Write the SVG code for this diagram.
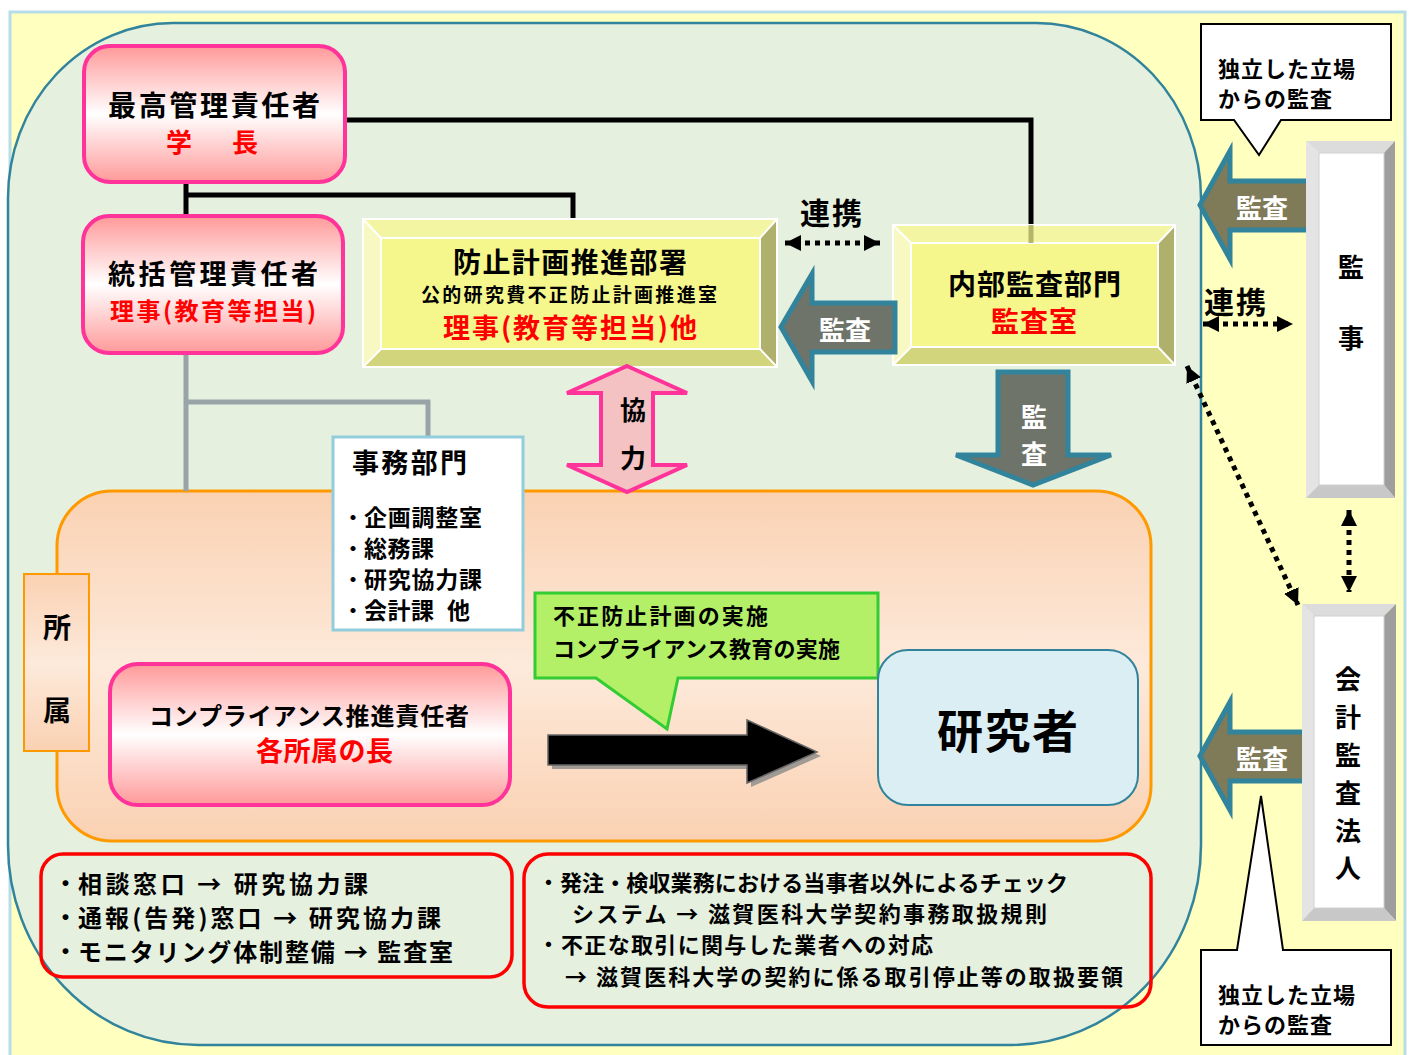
<svg xmlns="http://www.w3.org/2000/svg" width="1416" height="1055" viewBox="0 0 1416 1055">
<style>
.t{font-family:"Noto Sans CJK JP","Noto Sans CJK SC",sans-serif;font-weight:bold;dominant-baseline:central;fill:#000}
.r{fill:#FF0000}
.w{fill:#FFFFFF}
.m{text-anchor:middle}
.pink{stroke:#FF3399;stroke-width:4;fill:url(#pg)}
.dot{stroke:#000;stroke-width:5;stroke-dasharray:5 5;fill:none}
.blk{stroke:#000;stroke-width:5;fill:none}
.gry{stroke:#98A4A7;stroke-width:5;fill:none}
.audit{stroke:#31849B;stroke-width:5;stroke-linejoin:miter}
.wl{stroke:#FFFFFF;stroke-width:2;fill:none}
.call{fill:#FFFFFF;stroke:#000;stroke-width:2}
.redbox{fill:none;stroke:#FF0000;stroke-width:3.5}
</style>
<defs>
<linearGradient id="pg" x1="0" y1="0" x2="0" y2="1">
<stop offset="0" stop-color="#FF9999"/><stop offset="0.5" stop-color="#FFFFFF"/><stop offset="1" stop-color="#FF9999"/>
</linearGradient>
<linearGradient id="og" x1="0" y1="0" x2="0" y2="1">
<stop offset="0" stop-color="#FAD1B2"/><stop offset="0.5" stop-color="#FDEADB"/><stop offset="1" stop-color="#FAD1B2"/>
</linearGradient>
<marker id="ah" viewBox="0 0 10 10" refX="10" refY="5" markerWidth="16" markerHeight="16" markerUnits="userSpaceOnUse" orient="auto-start-reverse">
<path d="M0,0 L10,5 L0,10 z" fill="#000"/>
</marker>
</defs>

<!-- background -->
<rect x="10" y="12" width="1395" height="1050" fill="#FFFFBF" stroke="#B7DDE8" stroke-width="3"/>
<path d="M173,23 L1036,23 A165,175 0 0 1 1201,198 L1201,845 A190,200 0 0 1 1011,1045 L198,1045 A190,200 0 0 1 8,845 L8,198 A165,175 0 0 1 173,23 Z" fill="#E5F0DF" stroke="#31849B" stroke-width="2.5"/>

<!-- region: 所属 -->
<g id="region-shozoku">
<rect x="57" y="491" width="1094" height="350" rx="55" fill="url(#og)" stroke="#FF9900" stroke-width="3"/>
</g>

<!-- connectors -->
<g id="connectors">
<polyline class="blk" points="345,120 1031,120 1031,243"/>
<polyline class="blk" points="186,182 186,215"/>
<polyline class="blk" points="186,195 573,195 573,219"/>
<polyline class="gry" points="186,353 186,491"/>
<polyline class="gry" points="186,402 428,402 428,437"/>
<line class="dot" x1="785" y1="243" x2="880" y2="243" marker-start="url(#ah)" marker-end="url(#ah)"/>
<line class="dot" x1="1203" y1="324" x2="1293" y2="324" marker-start="url(#ah)" marker-end="url(#ah)"/>
<line class="dot" x1="1349" y1="510" x2="1349" y2="592" marker-start="url(#ah)" marker-end="url(#ah)"/>
<line class="dot" x1="1187" y1="366" x2="1298" y2="605" marker-start="url(#ah)" marker-end="url(#ah)"/>
</g>

<!-- 最高管理責任者 -->
<g id="node-saikou">
<rect class="pink" x="84" y="46" width="261" height="136" rx="26"/>
<text class="t" x="108" y="104" font-size="28" textLength="212" lengthAdjust="spacing">最高管理責任者</text>
<text class="t r" x="166" y="140" font-size="26">学</text>
<text class="t r" x="232" y="140" font-size="26">長</text>
</g>

<!-- 統括管理責任者 -->
<g id="node-toukatsu">
<rect class="pink" x="83" y="216" width="260" height="137" rx="26"/>
<text class="t" x="108" y="272" font-size="27" textLength="210" lengthAdjust="spacing">統括管理責任者</text>
<text class="t r" x="110" y="309" font-size="24" textLength="206" lengthAdjust="spacing">理事(教育等担当)</text>
</g>

<!-- 防止計画推進部署 -->
<g id="node-boushi">
<polygon points="363,219 777,219 760,238 381,238" fill="#F3F5A2"/>
<polygon points="363,219 381,238 381,349 363,367" fill="#F8F9C2"/>
<polygon points="777,219 777,367 760,349 760,238" fill="#AEB06B"/>
<polygon points="363,367 777,367 760,349 381,349" fill="#D2D57B"/>
<rect x="381" y="238" width="379" height="111" fill="#F5F78D"/>
<rect class="wl" x="363" y="219" width="414" height="148"/>
<rect class="wl" x="381" y="238" width="379" height="111"/>
<path class="wl" d="M363,219 L381,238 M777,219 L760,238 M363,367 L381,349 M777,367 L760,349"/>
<text class="t" x="453" y="261" font-size="28" textLength="234" lengthAdjust="spacing">防止計画推進部署</text>
<text class="t" x="421" y="293" font-size="19" textLength="296" lengthAdjust="spacing">公的研究費不正防止計画推進室</text>
<text class="t r" x="443" y="326" font-size="27" textLength="254" lengthAdjust="spacing">理事(教育等担当)他</text>
</g>

<!-- 内部監査部門 -->
<g id="node-naibu">
<polygon points="893,225 1175,225 1158,243 911,243" fill="#F3F5A2"/>
<polygon points="893,225 911,243 911,347 893,365" fill="#F8F9C2"/>
<polygon points="1175,225 1175,365 1158,347 1158,243" fill="#AEB06B"/>
<polygon points="893,365 1175,365 1158,347 911,347" fill="#D2D57B"/>
<rect x="911" y="243" width="247" height="104" fill="#F5F78D"/>
<rect class="wl" x="893" y="225" width="282" height="140"/>
<rect class="wl" x="911" y="243" width="247" height="104"/>
<path class="wl" d="M893,225 L911,243 M1175,225 L1158,243 M893,365 L911,347 M1175,365 L1158,347"/>
<line x1="1031" y1="225" x2="1031" y2="243" stroke="#B5B56A" stroke-width="5"/>
<text class="t" x="948" y="283" font-size="28" textLength="173" lengthAdjust="spacing">内部監査部門</text>
<text class="t r" x="991" y="320" font-size="28" textLength="86" lengthAdjust="spacing">監査室</text>
</g>

<!-- labels 連携 -->
<g id="label-renkei-1"><text class="t" x="800" y="211" font-size="30" textLength="62" lengthAdjust="spacing">連携</text></g>
<g id="label-renkei-2"><text class="t" x="1204" y="300" font-size="30" textLength="62" lengthAdjust="spacing">連携</text></g>

<!-- audit arrows -->
<g id="arrow-audit-mid">
<path class="audit" d="M781,327 L812,274 L812,303 L895,303 L895,352 L812,352 L812,381 Z" fill="#6E7469"/>
<text class="t w" x="819" y="328" font-size="26">監査</text>
</g>
<g id="arrow-audit-down">
<path class="audit" d="M998,372 L1068,372 L1068,455 L1111,455 L1033,485 L956,455 L998,455 Z" fill="#6E7469"/>
<text class="t w m" x="1034" y="415" font-size="26">監</text>
<text class="t w m" x="1034" y="452" font-size="26">査</text>
</g>
<g id="arrow-audit-kanji">
<path class="audit" d="M1200,205 L1230,151 L1230,181 L1311,181 L1311,230 L1230,230 L1230,259 Z" fill="#7F7A58"/>
<text class="t w" x="1236" y="206" font-size="26">監査</text>
</g>
<g id="arrow-audit-kaikei">
<path class="audit" d="M1200,756 L1230,702 L1230,732 L1309,732 L1309,781 L1230,781 L1230,810 Z" fill="#7F7A58"/>
<text class="t w" x="1236" y="757" font-size="26">監査</text>
</g>

<!-- 事務部門 -->
<g id="node-jimu">
<rect x="333" y="437" width="190" height="193" fill="#FFFFFF" stroke="#92CDDC" stroke-width="3"/>
<text class="t" x="352" y="461" font-size="27" textLength="115" lengthAdjust="spacing">事務部門</text>
<text class="t" x="343" y="516" font-size="20">・</text>
<text class="t" x="364" y="516" font-size="23" textLength="118" lengthAdjust="spacing">企画調整室</text>
<text class="t" x="343" y="547" font-size="20">・</text>
<text class="t" x="364" y="547" font-size="23" textLength="70" lengthAdjust="spacing">総務課</text>
<text class="t" x="343" y="578" font-size="20">・</text>
<text class="t" x="364" y="578" font-size="23" textLength="118" lengthAdjust="spacing">研究協力課</text>
<text class="t" x="343" y="609" font-size="20">・</text>
<text class="t" x="364" y="609" font-size="23" textLength="70" lengthAdjust="spacing">会計課</text>
<text class="t" x="447" y="609" font-size="23">他</text>
</g>

<!-- 協力 -->
<g id="arrow-kyouryoku">
<path d="M627,366 L687,393 L653,393 L653,465 L687,465 L627,492 L567,465 L601,465 L601,393 L567,393 Z" fill="#F4C2C2" stroke="#FF3399" stroke-width="4" stroke-linejoin="miter"/>
<text class="t m" x="633" y="408" font-size="26">協</text>
<text class="t m" x="633" y="456" font-size="26">力</text>
</g>

<!-- 所属 label -->
<g id="node-shozoku-label">
<rect x="24" y="574" width="65" height="177" fill="url(#og)" stroke="#FF9900" stroke-width="2"/>
<text class="t m" x="57" y="626" font-size="28">所</text>
<text class="t m" x="57" y="709" font-size="28">属</text>
</g>

<!-- コンプライアンス推進責任者 -->
<g id="node-compliance">
<rect class="pink" x="110" y="664" width="400" height="141" rx="28"/>
<text class="t" x="149" y="714" font-size="24" textLength="320" lengthAdjust="spacing">コンプライアンス推進責任者</text>
<text class="t r" x="256" y="749" font-size="27" textLength="137" lengthAdjust="spacing">各所属の長</text>
</g>

<!-- callout 実施 -->
<g id="callout-jisshi">
<path d="M535,593 L878,593 L878,678 L678,678 L667,729 L596,678 L535,678 Z" fill="#B3F067" stroke="#33CC33" stroke-width="3"/>
<text class="t" x="553" y="614" font-size="22" textLength="215" lengthAdjust="spacing">不正防止計画の実施</text>
<text class="t" x="553" y="647" font-size="22" textLength="287" lengthAdjust="spacing">コンプライアンス教育の実施</text>
</g>

<!-- big black arrow -->
<g id="arrow-big">
<path d="M552,739 L751,739 L751,724 L821,756 L751,787 L751,769 L552,769 Z" fill="#8A8A8A" opacity="0.8"/>
<path d="M548,735 L747,735 L747,720 L817,752 L747,783 L747,765 L548,765 Z" fill="#000" stroke="#666" stroke-width="1.5"/>
</g>

<!-- 研究者 -->
<g id="node-kenkyusha">
<rect x="878" y="650" width="260" height="155" rx="30" fill="#DAEEF3" stroke="#31849B" stroke-width="2"/>
<text class="t" x="937" y="728" font-size="46" textLength="141" lengthAdjust="spacing">研究者</text>
</g>

<!-- bottom left box -->
<g id="node-madoguchi">
<rect class="redbox" x="41" y="854" width="471" height="123" rx="22"/>
<text class="t" x="54" y="882" font-size="23">・</text>
<text class="t" x="78" y="882" font-size="24" textLength="290" lengthAdjust="spacing">相談窓口 → 研究協力課</text>
<text class="t" x="54" y="916" font-size="23">・</text>
<text class="t" x="78" y="916" font-size="24" textLength="363" lengthAdjust="spacing">通報(告発)窓口 → 研究協力課</text>
<text class="t" x="54" y="950" font-size="23">・</text>
<text class="t" x="78" y="950" font-size="24" textLength="375" lengthAdjust="spacing">モニタリング体制整備 → 監査室</text>
</g>

<!-- bottom right box -->
<g id="node-check">
<rect class="redbox" x="524" y="854" width="627" height="153" rx="24"/>
<text class="t" x="538" y="881" font-size="21">・</text>
<text class="t" x="560" y="881" font-size="22" textLength="508" lengthAdjust="spacing">発注・検収業務における当事者以外によるチェック</text>
<text class="t" x="572" y="912" font-size="22" textLength="475" lengthAdjust="spacing">システム → 滋賀医科大学契約事務取扱規則</text>
<text class="t" x="538" y="943" font-size="21">・</text>
<text class="t" x="561" y="943" font-size="22" textLength="372" lengthAdjust="spacing">不正な取引に関与した業者への対応</text>
<text class="t" x="565" y="975" font-size="22" textLength="558" lengthAdjust="spacing">→ 滋賀医科大学の契約に係る取引停止等の取扱要領</text>
</g>

<!-- top callout -->
<g id="callout-top">
<path class="call" d="M1201,24 L1391,24 L1391,120 L1281,120 L1259,155 L1234,120 L1201,120 Z"/>
<text class="t" x="1218" y="67" font-size="22" textLength="137" lengthAdjust="spacing">独立した立場</text>
<text class="t" x="1218" y="97" font-size="22" textLength="114" lengthAdjust="spacing">からの監査</text>
</g>

<!-- bottom callout -->
<g id="callout-bottom">
<path class="call" d="M1201,950 L1237,950 L1261,796 L1283,950 L1391,950 L1391,1045 L1201,1045 Z"/>
<text class="t" x="1218" y="993" font-size="22" textLength="137" lengthAdjust="spacing">独立した立場</text>
<text class="t" x="1218" y="1023" font-size="22" textLength="114" lengthAdjust="spacing">からの監査</text>
</g>

<!-- 監事 -->
<g id="node-kanji">
<polygon points="1306,141 1395,141 1384,153 1319,153" fill="#DCDCDC"/>
<polygon points="1306,141 1319,153 1319,485 1306,498" fill="#E4E4E4"/>
<polygon points="1395,141 1395,498 1384,485 1384,153" fill="#9E9E9E"/>
<polygon points="1306,498 1395,498 1384,485 1319,485" fill="#C8C8C8"/>
<rect x="1319" y="153" width="65" height="332" fill="#FFFFFF" stroke="#D0D0D0" stroke-width="1"/>
<text class="t m" x="1351" y="265" font-size="26">監</text>
<text class="t m" x="1351" y="336" font-size="26">事</text>
</g>

<!-- 会計監査法人 -->
<g id="node-kaikei">
<polygon points="1302,604 1396,604 1384,616 1314,616" fill="#DCDCDC"/>
<polygon points="1302,604 1314,616 1314,908 1302,921" fill="#E4E4E4"/>
<polygon points="1396,604 1396,921 1384,908 1384,616" fill="#9E9E9E"/>
<polygon points="1302,921 1396,921 1384,908 1314,908" fill="#C8C8C8"/>
<rect x="1314" y="616" width="70" height="292" fill="#FFFFFF" stroke="#D0D0D0" stroke-width="1"/>
<text class="t m" x="1348" y="677" font-size="26">会</text>
<text class="t m" x="1348" y="715" font-size="26">計</text>
<text class="t m" x="1348" y="753" font-size="26">監</text>
<text class="t m" x="1348" y="791" font-size="26">査</text>
<text class="t m" x="1348" y="829" font-size="26">法</text>
<text class="t m" x="1348" y="866" font-size="26">人</text>
</g>
</svg>
